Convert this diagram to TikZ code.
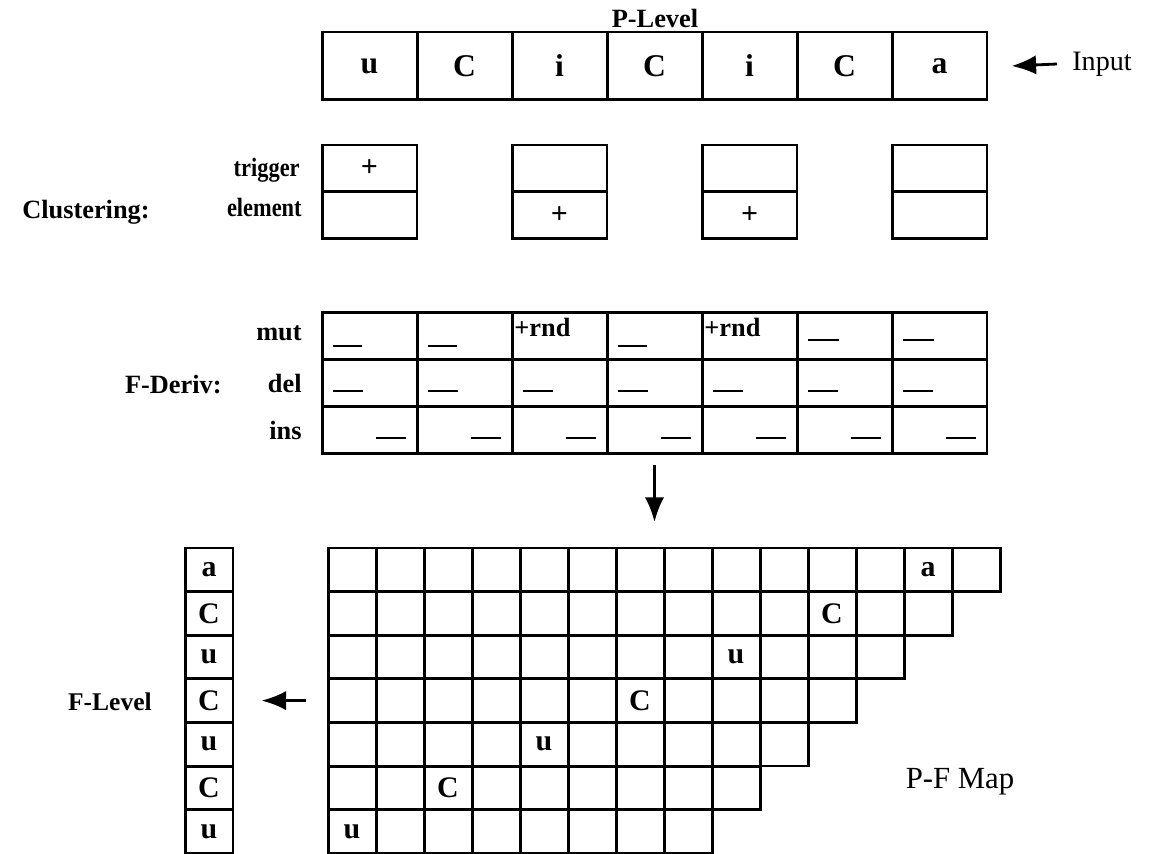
\documentclass[tikz,border=0pt]{standalone}
\usepackage{fontspec}
\setmainfont{Liberation Serif}
\newfontfamily\narrowfont{Liberation Serif}[FakeStretch=0.85]
\usetikzlibrary{arrows.meta}

\begin{document}
\begin{tikzpicture}[
  x=0.02cm, y=-0.02cm,
  lbl/.style={font=\fontsize{15}{17}\selectfont\bfseries,inner sep=0pt},
  rowlbl/.style={font=\fontsize{15}{17}\selectfont\narrowfont\bfseries,inner sep=0pt,anchor=east},
  plain/.style={font=\fontsize{16}{18}\selectfont,inner sep=0pt},
  sym/.style={font=\fontsize{17}{19}\selectfont\bfseries},
  incell/.style={draw,line width=1.7pt,minimum width=1.9cm,minimum height=1.36cm,inner sep=0pt,font=\fontsize{18}{20}\selectfont\bfseries},
  clcell/.style={draw,line width=1.7pt,minimum width=1.9cm,minimum height=0.94cm,inner sep=0pt,sym},
  dvcell/.style={draw,line width=1.7pt,minimum width=1.9cm,minimum height=0.94cm,inner sep=0pt},
  mapcell/.style={draw,line width=1.7pt,minimum width=0.96cm,minimum height=0.872cm,inner sep=0pt,sym},
  bar/.style={line width=1.4pt},
  flow/.style={-{Latex[length=14pt,width=11pt]},line width=1.6pt},
]
\useasboundingbox (0,0) rectangle (1152,854);

% P-Level input row
\node[lbl] (plev) at (655,18) {P-Level};
\foreach \s [count=\i] in {u,C,i,C,i,C,a}
  \node[incell] (in\i) at ({322+95*(\i-0.5)},66) {\s};
\node[plain,anchor=west] (inlbl) at (1072,64) {Input};
\draw[flow] ([xshift=-0.3cm]inlbl.west) -- ([xshift=0.46cm]in7.east);

% clustering
\node[lbl,anchor=east] (clus) at (150,212) {Clustering:};
\node[rowlbl] (trig) at (300,170) {trigger};
\node[rowlbl] (elem) at (302,207) {element};
\foreach \k in {1,...,4} {
  \node[clcell] (tr\k) at ({322+190*(\k-1)+47.5},168.5) {};
  \node[clcell] (el\k) at ({322+190*(\k-1)+47.5},215.5) {};
}
\node[sym] at (tr1) {+};
\node[sym] at (el2) {+};
\node[sym] at (el3) {+};

% F-Deriv table
\node[lbl,anchor=east] (fder) at (222,385) {F-Deriv:};
\node[lbl,anchor=east] (mutl) at (302,333) {mut};
\node[lbl,anchor=east] (dell) at (302,383) {del};
\node[lbl,anchor=east] (insl) at (302,430) {ins};
\foreach \i in {1,...,7} {
  \node[dvcell] (mut\i) at ({322+95*(\i-0.5)},336) {};
  \node[dvcell] (del\i) at ({322+95*(\i-0.5)},383) {};
  \node[dvcell] (ins\i) at ({322+95*(\i-0.5)},430) {};
  \draw[bar] ({322+95*(\i-1)+11},391) -- ++(30,0);
  \draw[bar] ({322+95*(\i-1)+54},438) -- ++(30,0);
}
\foreach \i in {1,2,4}
  \draw[bar] ({322+95*(\i-1)+11},346) -- ++(29,0);
\foreach \i in {6,7}
  \draw[bar] ({322+95*(\i-1)+11},340) -- ++(31,0);
\foreach \i in {3,5}
  \node[font=\fontsize{15}{17}\selectfont\bfseries,inner sep=0pt,anchor=north west] at ([xshift=2pt,yshift=-4pt]mut\i.north west) {+rnd};
\draw[flow] ([yshift=-0.2cm]ins4.south) -- ++(0,57);

% P-F map
\foreach \r/\s in {1/a,2/C,3/u,4/C,5/u,6/C,7/u} {
  \pgfmathtruncatemacro\ncol{15-\r}
  \pgfmathtruncatemacro\hit{15-2*\r}
  \foreach \c in {1,...,\ncol}
    \node[mapcell] (m\r-\c) at ({328+48*(\c-0.5)},{548+43.6*(\r-0.5)}) {};
  \node[sym] at (m\r-\hit) {\s};
}
\node[plain,font=\fontsize{17.5}{19}\selectfont] (pfmap) at (960,782) {P-F Map};

% F-Level column
\foreach \s [count=\i] in {a,C,u,C,u,C,u}
  \node[mapcell] (fl\i) at (209,{548+43.6*(\i-0.5)}) {\s};
\node[lbl,anchor=east,font=\fontsize{14.5}{16}\selectfont\bfseries] (flev) at (152,702) {F-Level};
\draw[flow] ([xshift=-0.42cm]m4-1.west) -- ([xshift=0.54cm]fl4.east);
\end{tikzpicture}
\end{document}
